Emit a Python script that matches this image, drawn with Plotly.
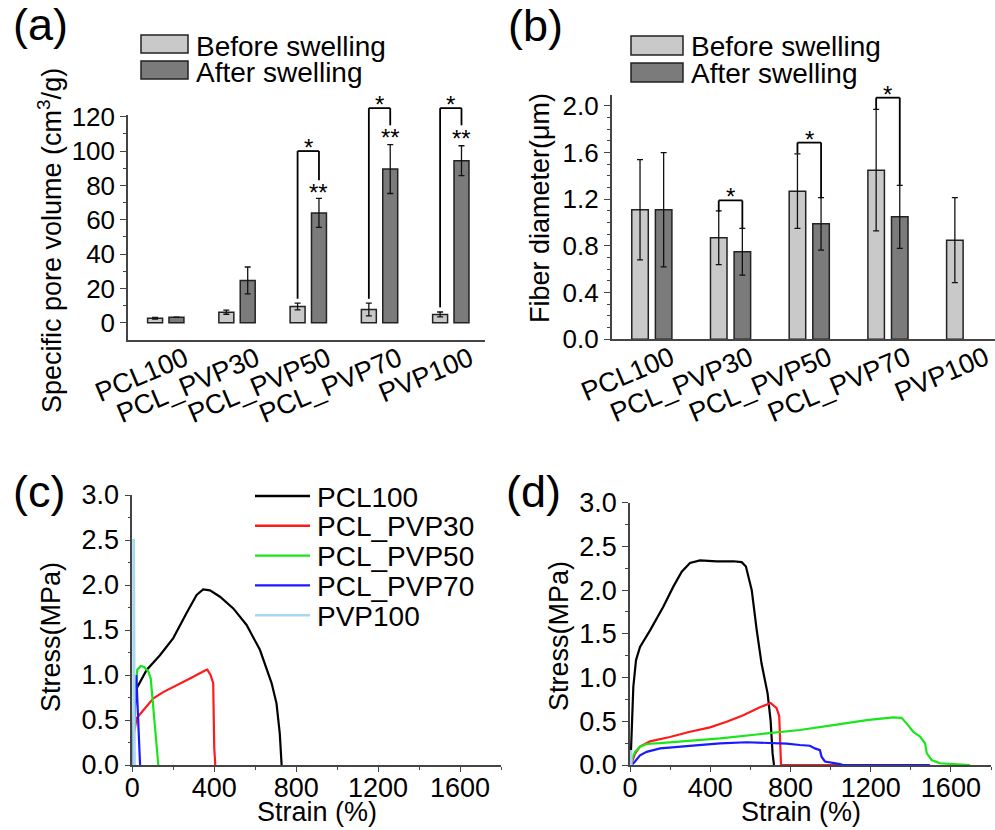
import plotly.graph_objects as go

W, H = 995, 830
FONT = "Liberation Sans, Arial, sans-serif"
AXC = "#444444"

# ---------------- data ----------------
categories = ["PCL100", "PCL_PVP30", "PCL_PVP50", "PCL_PVP70", "PVP100"]

pore_before = [2.7, 6.2, 9.5, 7.8, 4.9]
pore_before_err = [0.5, 1.2, 2.0, 3.7, 1.4]
pore_after = [3.3, 24.7, 64.0, 89.5, 94.4]
pore_after_err = [0.0, 7.8, 8.4, 14.2, 8.7]

fiber_before = [1.11, 0.87, 1.27, 1.45, 0.85]
fiber_before_err = [0.43, 0.23, 0.32, 0.52, 0.365]
fiber_after = [1.11, 0.75, 0.99, 1.05, None]
fiber_after_err = [0.49, 0.20, 0.225, 0.27, None]

# significance brackets: (category index, top, left leg end, right leg end)
pore_brackets = [(2, 100, 14, 83), (3, 125, 14, 115), (4, 125, 9, 115)]
pore_double_star = [(2, 74), (3, 106), (4, 105)]
fiber_brackets = [(1, 1.19, 1.094, 0.951), (2, 1.686, 1.594, 1.209), (3, 2.071, 1.974, 1.317)]

samples = ["PCL100", "PCL_PVP30", "PCL_PVP50", "PCL_PVP70", "PVP100"]
colors = ["#000000", "#ff1a1a", "#19e619", "#1a1aff", "#a8d8f0"]

# panel (c) stress-strain curves
c_strain = [
    [0, 5, 10, 21, 45, 70, 135, 200, 265, 314, 346, 379, 428, 493, 558, 623, 680, 704, 720, 729],
    [0, 8, 21, 54, 103, 151, 233, 298, 355, 366, 382, 395, 400, 405],
    [0, 8, 18, 24, 41, 58, 78, 90, 103, 116, 127],
    [0, 5, 15, 20, 25, 32, 38],
    [2, 4, 8, 10, 12],
]
c_stress = [
    [0, 0.4, 0.75, 0.85, 0.96, 1.056, 1.22, 1.41, 1.69, 1.89, 1.95, 1.94, 1.87, 1.74, 1.556, 1.28, 0.91, 0.685, 0.35, 0],
    [0, 0.35, 0.52, 0.61, 0.74, 0.81, 0.90, 0.98, 1.05, 1.06, 1.0, 0.91, 0.2, 0],
    [0, 0.45, 0.87, 1.056, 1.1, 1.09, 1.04, 0.96, 0.65, 0.31, 0],
    [0, 0.3, 0.9, 1.0, 0.7, 0.3, 0],
    [0, 2.5, 2.5, 0.3, 0],
]

# panel (d) stress-strain curves
d_strain = [
    [0, 5, 16.6, 30, 50, 100, 166, 216, 258, 299, 349, 432, 515, 557, 578, 607, 632, 656, 686, 701, 711, 718],
    [0, 8, 25, 50, 100, 199, 299, 399, 482, 565, 648, 701, 731, 744, 753, 1040],
    [0, 8, 25, 50, 83, 150, 449, 698, 847, 1014, 1180, 1313, 1354, 1379, 1412, 1446, 1471, 1480, 1504, 1545, 1695],
    [0, 8, 25, 50, 83, 150, 283, 449, 582, 781, 847, 897, 922, 947, 955, 972, 1047, 1063, 1495],
    [0, 3, 6, 8],
]
d_stress = [
    [0, 0.17, 0.895, 1.2, 1.35, 1.54, 1.81, 2.04, 2.21, 2.31, 2.34, 2.33, 2.33, 2.32, 2.27, 2.0, 1.54, 1.16, 0.82, 0.51, 0.13, 0],
    [0, 0.02, 0.13, 0.21, 0.27, 0.32, 0.38, 0.43, 0.495, 0.57, 0.66, 0.71, 0.65, 0.56, 0, 0],
    [0, 0.06, 0.15, 0.21, 0.24, 0.25, 0.305, 0.36, 0.40, 0.457, 0.514, 0.545, 0.54, 0.476, 0.38, 0.324, 0.248, 0.133, 0.057, 0.02, 0],
    [0, 0, 0.04, 0.11, 0.15, 0.19, 0.217, 0.248, 0.26, 0.245, 0.229, 0.22, 0.19, 0.17, 0.095, 0.04, 0.01, 0, 0],
    [0, 0.17, 0.17, 0],
]

# ---------------- geometry (pixels) ----------------
def px(x):
    return x / W

def py(y):
    return 1 - y / H

A_X = [px(128), px(485)]
A_Y = [py(340), py(115)]
A_YR = [-10, 121]
B_X = [px(611.7), 1.0]
B_Y = [py(339.3), py(95)]
B_YR = [0, 2.094]
C_X = [px(132.3), px(501)]
C_Y = [py(765), py(495)]
D_X = [px(630), px(991)]
D_Y = [py(765), py(502.7)]

BEFORE_C = "#c9c9c9"
AFTER_C = "#7b7b7b"
BARGAP = 0.4
OFF = (1 - BARGAP) / 4

xs = list(range(len(categories)))

fig = go.Figure()

def bar(x, y, err, color, xa, ya):
    return go.Bar(
        x=x, y=y, xaxis=xa, yaxis=ya, showlegend=False,
        marker=dict(color=color, line=dict(color="#222222", width=1.5)),
        error_y=dict(type="data", array=err, color="#111111", thickness=1.3, width=3, visible=True),
    )

fig.add_trace(bar(xs, pore_before, pore_before_err, BEFORE_C, "x", "y"))
fig.add_trace(bar(xs, pore_after, pore_after_err, AFTER_C, "x", "y"))
fig.add_trace(bar(xs, fiber_before, fiber_before_err, BEFORE_C, "x2", "y2"))
fig.add_trace(bar(xs, fiber_after, fiber_after_err, AFTER_C, "x2", "y2"))

for i, name in enumerate(samples):
    fig.add_trace(go.Scatter(x=c_strain[i], y=c_stress[i], mode="lines", name=name,
                             line=dict(color=colors[i], width=2.2), xaxis="x3", yaxis="y3",
                             showlegend=False))
for i, name in enumerate(samples):
    fig.add_trace(go.Scatter(x=d_strain[i], y=d_stress[i], mode="lines", name=name,
                             line=dict(color=colors[i], width=2.2), xaxis="x4", yaxis="y4",
                             showlegend=False))

shapes = []
annotations = []

def to_paper(v, rng, dom):
    return dom[0] + (v - rng[0]) / (rng[1] - rng[0]) * (dom[1] - dom[0])

def add_bracket(xa, i, top, lend, rend, rng, dom):
    xl, xr = i - OFF, i + OFF
    ln = dict(color="#000000", width=1.8)
    yt = to_paper(top, rng, dom)
    shapes.append(dict(type="line", xref=xa, yref="paper", x0=xl, x1=xl,
                       y0=to_paper(lend, rng, dom), y1=yt, line=ln))
    shapes.append(dict(type="line", xref=xa, yref="paper", x0=xl, x1=xr, y0=yt, y1=yt, line=ln))
    shapes.append(dict(type="line", xref=xa, yref="paper", x0=xr, x1=xr,
                       y0=to_paper(rend, rng, dom), y1=yt, line=ln))
    annotations.append(dict(text="*", xref=xa, yref="paper", x=i, y=yt, yanchor="bottom",
                            yshift=-12, showarrow=False, font=dict(size=24, family=FONT, color="#000")))

for b in pore_brackets:
    add_bracket("x", *b, A_YR, A_Y)
for i, v in pore_double_star:
    annotations.append(dict(text="**", xref="x", yref="paper", x=i + OFF, y=to_paper(v, A_YR, A_Y),
                            yanchor="bottom", yshift=-12, showarrow=False,
                            font=dict(size=24, family=FONT, color="#000")))
for b in fiber_brackets:
    add_bracket("x2", *b, B_YR, B_Y)

# custom legends for bar panels
def bar_legend(x0, x1, rows, tx):
    for (y0, y1, yc), color, label in zip(rows, [BEFORE_C, AFTER_C], ["Before swelling", "After swelling"]):
        shapes.append(dict(type="rect", xref="paper", yref="paper", x0=px(x0), x1=px(x1),
                           y0=py(y1), y1=py(y0), fillcolor=color, line=dict(color="#222222", width=1.5)))
        annotations.append(dict(text=label, xref="paper", yref="paper", x=px(tx), y=py(yc),
                                xanchor="left", yanchor="middle", showarrow=False,
                                font=dict(size=28, family=FONT, color="#000")))

bar_legend(141, 188, [(35, 53, 46), (61, 79, 72)], 194)
bar_legend(631, 683, [(36, 55, 47), (63, 82, 74)], 689)

# custom legend for panel (c)
for i, name in enumerate(samples):
    yc = 496 + 29.8 * i
    shapes.append(dict(type="line", xref="paper", yref="paper", x0=px(255), x1=px(310),
                       y0=py(yc), y1=py(yc), line=dict(color=colors[i], width=2.4)))
    annotations.append(dict(text=name, xref="paper", yref="paper", x=px(315), y=py(yc + 1),
                            xanchor="left", yanchor="middle", showarrow=False,
                            font=dict(size=28, family=FONT, color="#000")))

# panel labels
for lab, x, y in [("(a)", 11, 24), ("(b)", 506, 25), ("(c)", 11, 491), ("(d)", 504, 491)]:
    annotations.append(dict(text=lab, xref="paper", yref="paper", x=px(x), y=py(y),
                            xanchor="left", yanchor="middle", showarrow=False,
                            font=dict(size=45, family=FONT, color="#000")))

# axis titles
for txt, x, y, ang in [
    ("Specific pore volume (cm<sup>3</sup>/g)", 50, 241, -90),
    ("Fiber diameter(μm)", 540, 208, -90),
    ("Stress(MPa)", 51, 637, -90),
    ("Stress(MPa)", 559, 636, -90),
    ("Strain (%)", 317, 812, 0),
    ("Strain (%)", 801, 812, 0),
]:
    annotations.append(dict(text=txt, xref="paper", yref="paper", x=px(x), y=py(y),
                            xanchor="center", yanchor="middle", textangle=ang, showarrow=False,
                            font=dict(size=27, family=FONT, color="#000")))

tick_font = dict(size=26, family=FONT, color="#000")
common = dict(showline=True, linecolor=AXC, linewidth=1.5, showgrid=False, zeroline=False,
              tickcolor=AXC, tickwidth=1.3, tickfont=tick_font, automargin=False,
              ticklabeloverflow="allow")

cat_x = dict(common, tickmode="array", tickvals=xs, ticktext=categories, ticks="",
             tickangle=-23, ticklabelshift=19, ticklabelstandoff=-9,
             tickfont=dict(size=27, family=FONT, color="#000"))

strain_x = dict(common, range=[0, 1800], tickvals=[0, 400, 800, 1200, 1600], ticks="outside",
                ticklen=5, ticklabelstandoff=-7, tickfont=dict(size=27, family=FONT, color="#000"),
                minor=dict(dtick=200, ticks="outside", ticklen=3, tickcolor=AXC))
stress_y = dict(common, range=[0, 3.0], dtick=0.5, tickformat=".1f", ticks="outside", ticklen=6,
                tickfont=dict(size=27, family=FONT, color="#000"),
                minor=dict(dtick=0.25, ticks="outside", ticklen=3, tickcolor=AXC))

fig.update_layout(
    width=W, height=H, margin=dict(l=0, r=0, t=0, b=0, pad=0, autoexpand=False),
    paper_bgcolor="white", plot_bgcolor="white",
    barmode="group", bargap=BARGAP, bargroupgap=0.3,
    font=dict(family=FONT),
    xaxis=dict(cat_x, domain=A_X, range=[-0.53, 4.48], anchor="y"),
    yaxis=dict(common, domain=A_Y, range=A_YR, anchor="x", tickvals=[0, 20, 40, 60, 80, 100, 120],
               ticks="outside", ticklen=6,
               minor=dict(tickvals=[10, 30, 50, 70, 90, 110], ticks="outside", ticklen=3, tickcolor=AXC)),
    xaxis2=dict(cat_x, domain=B_X, range=[-0.51, 4.36], anchor="y2"),
    yaxis2=dict(common, domain=B_Y, range=B_YR, anchor="x2",
                tickvals=[0, 0.4, 0.8, 1.2, 1.6, 2.0], tickformat=".1f", ticks="outside", ticklen=6,
                minor=dict(dtick=0.1, ticks="outside", ticklen=3, tickcolor=AXC)),
    xaxis3=dict(strain_x, domain=C_X, anchor="y3"),
    yaxis3=dict(stress_y, domain=C_Y, anchor="x3"),
    xaxis4=dict(strain_x, domain=D_X, anchor="y4"),
    yaxis4=dict(stress_y, domain=D_Y, anchor="x4"),
    shapes=shapes,
    annotations=annotations,
)

fig.write_html("out.html", config={"displayModeBar": False},
               post_script="document.body.style.margin='0px';")
